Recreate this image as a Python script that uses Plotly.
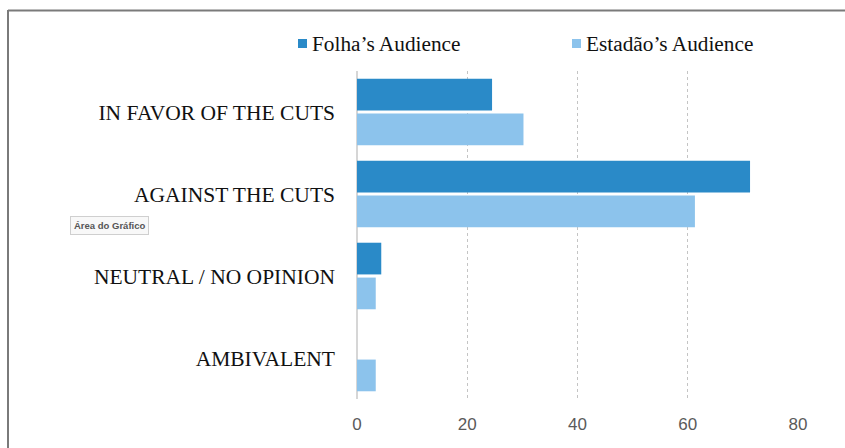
import plotly.graph_objects as go

# Audience positions on the budget cuts (percent of comments)
categories = ["IN FAVOR OF THE CUTS", "AGAINST THE CUTS", "NEUTRAL / NO OPINION", "AMBIVALENT"]
folha_values = [24.5, 71.3, 4.4, 0]
estadao_values = [30.2, 61.3, 3.4, 3.4]
series_names = ["Folha’s Audience", "Estadão’s Audience"]
x_ticks = [0, 20, 40, 60, 80]

FOLHA_COLOR = "#2a8ac8"
ESTADAO_COLOR = "#8cc3ec"

W, H = 845, 448
M_L, M_R, M_T, M_B = 357, 47, 71, 49


def px_x(x):
    """Pixel column -> paper x coordinate."""
    return (x - M_L) / (W - M_L - M_R)


def px_y(y):
    """Pixel row -> paper y coordinate."""
    return 1 - (y - M_T) / (H - M_T - M_B)


fig = go.Figure()
fig.add_trace(go.Bar(y=categories, x=folha_values, orientation="h",
                     name=series_names[0], marker=dict(color=FOLHA_COLOR, line=dict(width=0)),
                     showlegend=False))
fig.add_trace(go.Bar(y=categories, x=estadao_values, orientation="h",
                     name=series_names[1], marker=dict(color=ESTADAO_COLOR, line=dict(width=0)),
                     showlegend=False))

# Legend drawn as coloured squares with serif labels
legend_items = [(series_names[0], FOLHA_COLOR, 298), (series_names[1], ESTADAO_COLOR, 572)]
shapes = []
annotations = []
for name, color, x0 in legend_items:
    shapes.append(dict(type="rect", xref="paper", yref="paper",
                       x0=px_x(x0), x1=px_x(x0 + 9), y0=px_y(48), y1=px_y(39),
                       fillcolor=color, line=dict(width=0)))
    annotations.append(dict(text=name, xref="paper", yref="paper",
                            x=px_x(x0 + 12), y=px_y(43.5), xanchor="left", yanchor="middle",
                            showarrow=False,
                            font=dict(family="Liberation Serif, Times New Roman, serif",
                                      size=21.3, color="#111111")))

# Outer frame (top and left edges)
shapes.append(dict(type="line", xref="paper", yref="paper",
                   x0=px_x(8), x1=px_x(850), y0=px_y(10.5), y1=px_y(10.5),
                   line=dict(color="#7a7a7a", width=2)))
shapes.append(dict(type="line", xref="paper", yref="paper",
                   x0=px_x(8), x1=px_x(8), y0=px_y(10), y1=px_y(452),
                   line=dict(color="#7a7a7a", width=2)))

# Chart-area hint label
annotations.append(dict(text="<b>Área do Gráfico</b>", xref="paper", yref="paper",
                        x=px_x(109.5), y=px_y(225), xanchor="center", yanchor="middle",
                        showarrow=False, bgcolor="#f8f8f8", bordercolor="#cfcfcf",
                        borderwidth=1, borderpad=3,
                        font=dict(family="Liberation Sans, Arial, sans-serif",
                                  size=9.5, color="#555555")))

fig.update_layout(
    width=W, height=H,
    margin=dict(l=M_L, r=M_R, t=M_T, b=M_B, pad=0),
    paper_bgcolor="white", plot_bgcolor="white",
    barmode="group", bargap=0.15, bargroupgap=0.09,
    shapes=shapes, annotations=annotations,
    showlegend=False,
)
fig.update_xaxes(
    range=[0, 80], tickvals=x_ticks, ticktext=[str(v) for v in x_ticks],
    showgrid=True, gridcolor="#c4c4c4", gridwidth=1, griddash="dot",
    zeroline=True, zerolinecolor="#d6d6d6", zerolinewidth=2,
    showline=False, ticks="outside", ticklen=10, tickcolor="rgba(0,0,0,0)",
    tickfont=dict(family="Liberation Sans, Arial, sans-serif", size=17, color="#5a5a5a"),
)
fig.update_yaxes(
    categoryorder="array", categoryarray=categories, autorange="reversed",
    showgrid=False, zeroline=False, showline=False,
    ticks="", ticklabelstandoff=21,
    tickfont=dict(family="Liberation Serif, Times New Roman, serif", size=21.5, color="#111111"),
)

fig.write_html("out.html")
